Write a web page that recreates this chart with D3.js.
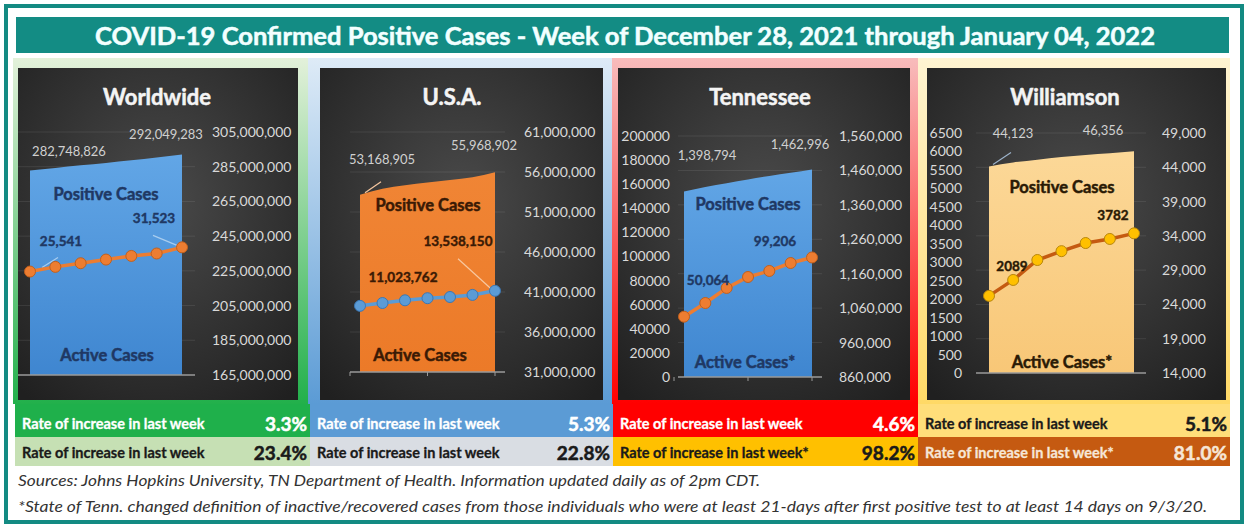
<!DOCTYPE html>
<html>
<head>
<meta charset="utf-8">
<script src="https://cdn.jsdelivr.net/npm/d3@7/dist/d3.min.js"></script>
<style>
  body { margin: 0; background: #fff; }
  svg { display: block; font-family: Lato, 'Open Sans', sans-serif; }
</style>
</head>
<body>
<svg id="chart" width="1247" height="527"></svg>
<script>
// Seven daily readings, Dec 29 to Jan 4
const days = ['12/29', '12/30', '12/31', '1/1', '1/2', '1/3', '1/4']

const regions = ['Worldwide', 'U.S.A.', 'Tennessee', 'Williamson']

// Cumulative positive cases (area, right axis)
const worldPositive = [282748826, 284300000, 285800000, 287200000, 288700000, 290300000, 292049283]
const usaPositive = [53168905, 53900000, 54350000, 54700000, 55000000, 55350000, 55968902]
const tnPositive = [1398794, 1412000, 1423000, 1434000, 1444000, 1453000, 1462996]
const wcPositive = [44123, 44700, 45100, 45500, 45800, 46050, 46356]

// Active cases (line, left axis)
const worldActive = [25541, 26700, 27600, 28500, 29400, 30000, 31523]
const usaActive = [11023762, 11500000, 11950000, 12300000, 12500000, 12850000, 13538150]
const tnActive = [50064, 61400, 73900, 83000, 88000, 94600, 99206]
const wcActive = [2089, 2520, 3060, 3300, 3520, 3630, 3782]

// Axis ticks
const worldRightTicks = d3.range(165000000, 305000001, 20000000)
const usaRightTicks = d3.range(31000000, 61000001, 5000000)
const tnRightTicks = d3.range(860000, 1560001, 100000)
const tnLeftTicks = d3.range(0, 200001, 20000)
const wcRightTicks = d3.range(14000, 49001, 5000)
const wcLeftTicks = d3.range(0, 6501, 500)
// hidden left axes
const worldLeftDomain = [0, 60000]
const usaLeftDomain = [0, 40000000]

// Weekly rates
const positiveRates = ['3.3%', '5.3%', '4.6%', '5.1%']
const activeRates = ['23.4%', '22.8%', '98.2%', '81.0%']
const positiveRateLabels = ['Rate of increase in last week', 'Rate of increase in last week',
  'Rate of increase in last week', 'Rate of increase in last week']
const activeRateLabels = ['Rate of increase in last week', 'Rate of increase in last week',
  'Rate of increase in last week*', 'Rate of increase in last week*']
const activeNames = ['Active Cases', 'Active Cases', 'Active Cases*', 'Active Cases*']

const titleText = 'COVID-19 Confirmed Positive Cases - Week of December 28, 2021 through January 04, 2022'
const notes = [
  'Sources: Johns Hopkins University, TN Department of Health. Information updated daily as of 2pm CDT.',
  '*State of Tenn. changed definition of inactive/recovered cases from those individuals who were at least 21-days after first positive test to at least 14 days on 9/3/20.'
]

const fmt = d3.format(',')

const svg = d3.select('#chart')
const defs = svg.append('defs')

// Dark chart background
const bgGrad = defs.append('radialGradient').attr('id', 'darkbg')
  .attr('cx', '50%').attr('cy', '40%').attr('r', '75%')
bgGrad.append('stop').attr('offset', '0%').attr('stop-color', '#4a4a4a')
bgGrad.append('stop').attr('offset', '100%').attr('stop-color', '#202020')

function vGrad (id, top, bottom) {
  const g = defs.append('linearGradient').attr('id', id)
    .attr('x1', 0).attr('y1', 0).attr('x2', 0).attr('y2', 1)
  g.append('stop').attr('offset', '0%').attr('stop-color', top)
  g.append('stop').attr('offset', '100%').attr('stop-color', bottom)
}

// bold text a bit heavier, like the Calibri original
function heavy (sel, color, w) {
  return sel.style('font-weight', 'bold').style('fill', color)
    .style('stroke', color).style('stroke-width', w || 0.45)
}

/**
 * Panel layout and styling. Scales below map the data arrays into these boxes.
 */
const panels = [
  {
    name: regions[0], positive: worldPositive, active: worldActive,
    frame: [13, 308], frameTop: '#e3f1da', frameBottom: '#22b04b',
    dark: [18, 298], plot: [30, 182], yRange: [375, 132], titleX: 157,
    rightTicks: worldRightTicks, rightX: 212, leftTicks: null, leftDomain: worldLeftDomain,
    area: ['#62a6e6', '#3f86d0'], line: '#ed7d31', marker: '#ed7d31', markerStroke: '#c2601c',
    posLabel: '#d0d0d0', inner: '#1f3864',
    pLab: [[39, -15], [-16, -15]], aLab: [[31, -26], [-28, -24]],
    posCases: [106, 200], actCases: [107, 361], axisLine: [18, 195], ticks: false,
    leaders: { active: [[12, -4, 28, -14], [-29, -12, -5, -2]] },
    leaderColor: '#a9cdef',
    row1: '#1fb04b', row1Text: '#fff', row2: '#c6e0b4', row2Text: '#1a1a1a', rows: [15, 310]
  },
  {
    name: regions[1], positive: usaPositive, active: usaActive,
    frame: [308, 612], frameTop: '#deebf7', frameBottom: '#5b9bd5',
    dark: [320, 603], plot: [360, 495], yRange: [372, 132], titleX: 452,
    rightTicks: usaRightTicks, rightX: 524, leftTicks: null, leftDomain: usaLeftDomain,
    area: ['#f08535', '#ec7a28'], line: '#5b9bd5', marker: '#5b9bd5', markerStroke: '#3b78b5',
    posLabel: '#d0d0d0', inner: '#3a1a05',
    pLab: [[22, -31], [-11, -22]], aLab: [[43, -24], [-37, -45]],
    posCases: [428, 211], actCases: [420, 361], axisLine: [350, 505], ticks: true,
    leaders: { positive: [[5, -2, 21, -13]], active: [[-37, -32, -4, -2]] },
    leaderColor: '#f8c8a0',
    row1: '#5b9bd5', row1Text: '#fff', row2: '#d9dde3', row2Text: '#1a1a1a', rows: [310, 613]
  },
  {
    name: regions[2], positive: tnPositive, active: tnActive,
    frame: [612, 918], frameTop: '#f8bcbc', frameBottom: '#ff0000',
    dark: [618, 910], plot: [684, 812], yRange: [377, 136], titleX: 760,
    rightTicks: tnRightTicks, rightX: 839, leftTicks: tnLeftTicks, leftX: 670,
    area: ['#62a6e6', '#3f86d0'], line: '#ed7d31', marker: '#ed7d31', markerStroke: '#c2601c',
    posLabel: '#d0d0d0', inner: '#1f3864',
    pLab: [[23, -32], [-12, -20]], aLab: [[24, -32], [-37, -11]],
    posCases: [748, 210], actCases: [745, 368], axisLine: [678, 822], ticks: true,
    leaders: {}, leaderColor: '#ccc',
    row1: '#ff0000', row1Text: '#fff', row2: '#ffc000', row2Text: '#1a1a1a', rows: [613, 918]
  },
  {
    name: regions[3], positive: wcPositive, active: wcActive,
    frame: [918, 1230], frameTop: '#fff4d2', frameBottom: '#ffd966',
    dark: [927, 1226], plot: [989, 1134], yRange: [373, 133], titleX: 1065,
    rightTicks: wcRightTicks, rightX: 1162, leftTicks: wcLeftTicks, leftX: 962,
    area: ['#fcd898', '#f8c777'], line: '#c55a11', marker: '#ffc000', markerStroke: '#b8860b',
    posLabel: '#d0d0d0', inner: '#2a1a05',
    pLab: [[24, -28], [-31, -16]], aLab: [[23, -25], [-21, -13]],
    posCases: [1062, 193], actCases: [1062, 368], axisLine: [976, 1146], ticks: false,
    leaders: { positive: [[4, -2, 22, -14]] }, leaderColor: '#9db4cc',
    row1: '#ffde7a', row1Text: '#1a1a1a', row2: '#c55a11', row2Text: '#f6e6d6', rows: [918, 1230]
  }
]

// Outer frame and title
svg.append('rect').attr('x', 6).attr('y', 6).attr('width', 1236).attr('height', 516)
  .attr('fill', '#fff').attr('stroke', '#138a82').attr('stroke-width', 4)
svg.append('rect').attr('x', 16).attr('y', 17).attr('width', 1213).attr('height', 36)
  .attr('fill', '#138c84')
heavy(svg.append('text').attr('x', 95).attr('y', 45)
  .attr('textLength', 1060).attr('lengthAdjust', 'spacingAndGlyphs')
  .style('font-size', '24px'), '#f2ffff', 0.5)
  .text(titleText)

panels.forEach((p, k) => {
  const g = svg.append('g')
  const x = d3.scalePoint().domain(days).range(p.plot)
  const yR = d3.scaleLinear()
    .domain([p.rightTicks[0], p.rightTicks[p.rightTicks.length - 1]]).range(p.yRange)
  const yL = d3.scaleLinear()
    .domain(p.leftTicks ? [p.leftTicks[0], p.leftTicks[p.leftTicks.length - 1]] : p.leftDomain)
    .range(p.yRange)

  // Coloured frame behind the dark chart
  vGrad('frame' + k, p.frameTop, p.frameBottom)
  g.append('rect').attr('x', p.frame[0]).attr('y', 58)
    .attr('width', p.frame[1] - p.frame[0]).attr('height', 346)
    .attr('fill', `url(#frame${k})`)
  g.append('rect').attr('x', p.dark[0]).attr('y', 68)
    .attr('width', p.dark[1] - p.dark[0]).attr('height', 332)
    .attr('fill', 'url(#darkbg)')

  heavy(g.append('text').attr('x', p.titleX)
    .attr('y', 105).attr('text-anchor', 'middle')
    .style('font-size', '22px'), '#f4f4f4', 0.5)
    .text(p.name)

  // Gridlines at right axis ticks
  g.selectAll('line.grid').data(p.rightTicks.slice(1)).join('line')
    .attr('x1', p.axisLine[0]).attr('x2', p.axisLine[1])
    .attr('y1', d => yR(d)).attr('y2', d => yR(d))
    .attr('stroke', 'rgba(255,255,255,0.09)')

  // Right axis
  const right = g.append('g').attr('transform', `translate(${p.rightX},0)`)
    .call(d3.axisRight(yR).tickValues(p.rightTicks).tickFormat(fmt).tickSize(0).tickPadding(0))
  right.select('.domain').remove()
  right.selectAll('text').style('font-size', '14px').style('fill', '#d9d9d9')
    .style('font-family', 'Lato, sans-serif')

  // Left axis (only for the state and county)
  if (p.leftTicks) {
    const left = g.append('g').attr('transform', `translate(${p.leftX},0)`)
      .call(d3.axisLeft(yL).tickValues(p.leftTicks).tickFormat(d3.format('d')).tickSize(0).tickPadding(0))
    left.select('.domain').remove()
    left.selectAll('text').style('font-size', '14px').style('fill', '#d9d9d9')
      .style('font-family', 'Lato, sans-serif')
  }

  // Positive cases area
  vGrad('area' + k, p.area[0], p.area[1])
  const area = d3.area().x((d, i) => x(days[i])).y0(p.yRange[0]).y1(d => yR(d))
    .curve(d3.curveMonotoneX)
  g.append('path').datum(p.positive).attr('d', area)
    .attr('fill', `url(#area${k})`)

  // Baseline axis
  g.append('line').attr('x1', p.axisLine[0]).attr('x2', p.axisLine[1])
    .attr('y1', p.yRange[0]).attr('y2', p.yRange[0])
    .attr('stroke', '#9a9a9a').attr('stroke-width', 1.5)
  if (p.ticks) {
    g.selectAll('line.tk').data([0, 3, 6]).join('line')
      .attr('x1', i => x(days[i]) - (i === 0 ? 10 : 0)).attr('x2', i => x(days[i]) - (i === 0 ? 10 : 0))
      .attr('y1', p.yRange[0]).attr('y2', p.yRange[0] + 4)
      .attr('stroke', '#9a9a9a')
  }

  const first = 0
  const last = days.length - 1

  // Leader lines
  const leader = (l, cx, cy) => g.append('line')
    .attr('x1', cx + l[0]).attr('y1', cy + l[1])
    .attr('x2', cx + l[2]).attr('y2', cy + l[3])
    .attr('stroke', p.leaderColor).attr('stroke-width', 1.2)
  ;(p.leaders.positive || []).forEach(l => leader(l, x(days[first]), yR(p.positive[first])))
  ;(p.leaders.active || []).forEach((l, j, arr) => {
    const i = arr.length > 1 && j === 0 ? first : last
    leader(l, x(days[i]), yL(p.active[i]))
  })

  // Active cases line and markers
  const line = d3.line().x((d, i) => x(days[i])).y(d => yL(d))
  g.append('path').datum(p.active).attr('d', line)
    .attr('fill', 'none').attr('stroke', p.line).attr('stroke-width', 3.5)
  g.selectAll('circle').data(p.active).join('circle')
    .attr('cx', (d, i) => x(days[i])).attr('cy', d => yL(d))
    .attr('r', 5.5).attr('fill', p.marker).attr('stroke', p.markerStroke).attr('stroke-width', 1)

  // Data labels
  ;[first, last].forEach((i, j) => {
    g.append('text')
      .attr('x', x(days[i]) + p.pLab[j][0]).attr('y', yR(p.positive[i]) + p.pLab[j][1])
      .attr('text-anchor', 'middle')
      .style('font-size', '13px').style('fill', p.posLabel)
      .text(fmt(p.positive[i]))
    heavy(g.append('text')
      .attr('x', x(days[i]) + p.aLab[j][0]).attr('y', yL(p.active[i]) + p.aLab[j][1])
      .attr('text-anchor', 'middle')
      .style('font-size', '13.5px'), p.inner, 0.4)
      .text(k === 3 ? p.active[i] : fmt(p.active[i]))
  })

  heavy(g.append('text').attr('x', p.posCases[0]).attr('y', p.posCases[1])
    .attr('text-anchor', 'middle')
    .style('font-size', '16.5px'), p.inner, 0.5)
    .text('Positive Cases')
  heavy(g.append('text').attr('x', p.actCases[0]).attr('y', p.actCases[1])
    .attr('text-anchor', 'middle')
    .style('font-size', '16.5px'), p.inner, 0.5)
    .text(activeNames[k])

  // Rate rows
  const rw = p.rows[1] - p.rows[0]
  g.append('rect').attr('x', p.rows[0]).attr('y', 404).attr('width', rw).attr('height', 33)
    .attr('fill', p.row1)
  g.append('rect').attr('x', p.rows[0]).attr('y', 437).attr('width', rw).attr('height', 29)
    .attr('fill', p.row2)
  heavy(g.append('text').attr('x', p.rows[0] + 7).attr('y', 429)
    .style('font-size', '14.5px'), p.row1Text, 0.3)
    .text(positiveRateLabels[k])
  heavy(g.append('text').attr('x', p.rows[1] - 3).attr('y', 431).attr('text-anchor', 'end')
    .style('font-size', '19px'), p.row1Text, 0.5)
    .text(positiveRates[k])
  heavy(g.append('text').attr('x', p.rows[0] + 7).attr('y', 458)
    .style('font-size', '14.5px'), p.row2Text, 0.3)
    .text(activeRateLabels[k])
  heavy(g.append('text').attr('x', p.rows[1] - 3).attr('y', 460).attr('text-anchor', 'end')
    .style('font-size', '19px'), p.row2Text, 0.5)
    .text(activeRates[k])
})

// Footnotes
svg.selectAll('text.note').data(notes).join('text')
  .attr('class', 'note')
  .attr('x', 18).attr('y', (d, i) => 486 + i * 26)
  .attr('textLength', (d, i) => i === 0 ? 742 : 1189).attr('lengthAdjust', 'spacingAndGlyphs')
  .style('font-size', '15px').style('font-style', 'italic').style('fill', '#333')
  .text(d => d)
</script>
</body>
</html>
